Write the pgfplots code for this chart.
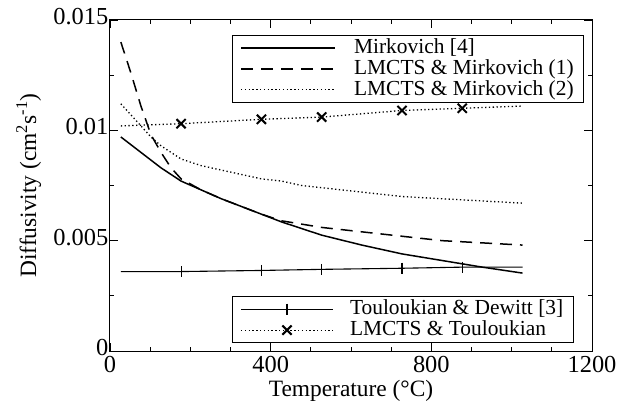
\documentclass[border=0pt]{standalone}
\usepackage{fontspec}
\setmainfont{Liberation Serif}
\usepackage{pgfplots}
\pgfplotsset{compat=1.18}
\begin{document}
\begin{tikzpicture}
\pgfplotsset{
 common/.style={scale only axis, width=482bp, height=331bp,
   xmin=0, xmax=1200, ymin=0, ymax=0.015, clip=true},
 legimg/.style={legend image code/.code={%
   \draw[mark repeat=2,mark phase=2] plot coordinates {(0bp,0bp)(47bp,0bp)(94bp,0bp)};
   \path[draw=none] (0bp,0bp) -- (111bp,0bp);}},
 legbox/.style={legend style={draw=black, line width=0.8bp, fill=white,
   font=\fontsize{21.5}{24}\selectfont, inner xsep=8bp, inner ysep=2bp, row sep=0pt,
   nodes={inner xsep=2bp, inner ysep=1bp, text height=15bp, text depth=4bp}},
   legend cell align=left},
}
\begin{axis}[common,
 axis line style={line width=1bp},
 tick align=inside, major tick length=8bp, minor tick length=4bp,
 tick style={line width=0.8bp, black},
 xtick={0,400,800,1200}, xticklabels={0,400,800,1200}, minor x tick num=3,
 ytick={0,0.005,0.01,0.015}, yticklabels={0,0.005,0.01,0.015}, minor y tick num=1,
 scaled y ticks=false, scaled x ticks=false,
 /pgf/number format/assume math mode=true,
 tick label style={font=\fontsize{24.5}{28}\selectfont},
 yticklabel style={inner xsep=1.5bp, inner ysep=0bp, yshift=3.5bp},
 xticklabel style={inner ysep=0bp, yshift=-5bp},
 xlabel={Temperature (°C)},
 ylabel={Diffusivity (cm\textsuperscript{2}s\textsuperscript{-1})},
 every axis x label/.style={at={(axis description cs:0.5,-0.136)},anchor=base,
   font=\fontsize{23.5}{28}\selectfont},
 every axis y label/.style={at={(axis description cs:-0.1535,0.5)},anchor=base,rotate=90,
   font=\fontsize{23.5}{28}\selectfont},
 legimg, legbox,
 legend style={at={(axis description cs:0.253,0.955)}, anchor=north west},
]
\addplot[black, line width=1.5bp] table {
27 0.0097
77 0.0090
127 0.0083
177 0.0077
227 0.0073
277 0.0069
327 0.00655
377 0.0062
427 0.00585
477 0.00555
527 0.00525
627 0.0048
727 0.0044
827 0.0041
927 0.0038
1027 0.00353
};
\addlegendentry{Mirkovich [4]}
\addplot[black, line width=1.5bp, dash pattern=on 12bp off 8bp] table {
27 0.0140
52 0.0126
77 0.0111
102 0.0098
127 0.0090
152 0.0083
177 0.0078
227 0.0073
277 0.0069
327 0.00655
377 0.0062
427 0.0059
477 0.00575
527 0.0056
627 0.0054
727 0.0052
827 0.0050
927 0.0049
1027 0.0048
};
\addlegendentry{LMCTS \& Mirkovich (1)}
\addplot[black, line width=1.3bp, dash pattern=on 1.3bp off 2.5bp] table {
27 0.0112
52 0.0107
77 0.0102
102 0.0097
127 0.0093
177 0.0087
227 0.0084
277 0.0082
327 0.0080
377 0.0078
427 0.0077
477 0.0075
527 0.0074
627 0.0072
727 0.0070
827 0.0069
927 0.0068
1027 0.0067
};
\addlegendentry{LMCTS \& Mirkovich (2)}
\end{axis}
\begin{axis}[common, hide axis, legimg, legbox,
 legend style={at={(axis description cs:0.253,0.024)}, anchor=south west},
]
\addplot[black, line width=1.1bp, mark=|, mark size=5.5bp, mark indices={2,3,4,5,6},
 legend image code/.code={%
   \draw[mark indices={2}] plot coordinates {(0bp,0bp)(46bp,0bp)(92bp,0bp)};
   \path[draw=none] (0bp,0bp) -- (107bp,0bp);}] table {
27 0.0036
177 0.0036
377 0.00365
527 0.0037
727 0.00375
877 0.0038
1027 0.0038
};
\addlegendentry{Touloukian \& Dewitt [3]}
\addplot[black, line width=1.3bp, dash pattern=on 1.3bp off 2.5bp, mark=x, mark size=6.5bp,
 mark options={solid, line width=2bp}, mark indices={2,3,4,5,6},
 legend image code/.code={%
   \draw[mark indices={2}] plot coordinates {(0bp,0bp)(46bp,0bp)(92bp,0bp)};
   \path[draw=none] (0bp,0bp) -- (107bp,0bp);}] table {
27 0.0102
177 0.0103
377 0.0105
527 0.0106
727 0.0109
877 0.0110
1027 0.0111
};
\addlegendentry{LMCTS \& Touloukian}
\end{axis}
\pgfresetboundingbox
\path (current axis.south west) ++(-110bp,-66bp) rectangle ++(632bp,417bp);
\end{tikzpicture}
\end{document}
